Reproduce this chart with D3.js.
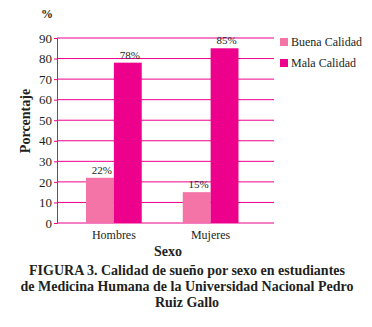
<!DOCTYPE html>
<html>
<head>
<meta charset="utf-8">
<script src="https://cdn.jsdelivr.net/npm/d3@7"></script>
<style>
  body { margin: 0; background: #fff; }
  svg text { font-family: "Liberation Serif", "DejaVu Serif", serif; fill: #231f20; }
</style>
</head>
<body>
<div id="chart"></div>
<script>
const categories = ['Hombres', 'Mujeres']
const series = ['Buena Calidad', 'Mala Calidad']
const buena = [22, 15]
const mala = [78, 85]
const yTicks = [0, 10, 20, 30, 40, 50, 60, 70, 80, 90]
const captionLines = [
  'FIGURA 3. Calidad de sueño por sexo en estudiantes',
  'de Medicina Humana de la Universidad Nacional Pedro',
  'Ruiz Gallo'
]

const width = 372
const height = 327
const lineColor = '#ec008c'
const colors = ['#f474a8', '#ec008c']
const serifFont = '"Liberation Serif", "DejaVu Serif", serif'

const plot = { left: 57, right: 274, top: 38, bottom: 223 }

const svg = d3
  .select('#chart')
  .append('svg')
  .attr('width', width)
  .attr('height', height)
  .style('font-family', serifFont)

const y = d3.scaleLinear().domain([0, 90]).range([plot.bottom, plot.top])

const x0 = d3.scaleBand().domain(categories).range([65.5, 259])
const x1 = d3
  .scaleBand()
  .domain(series)
  .range([x0.bandwidth() * 0.212, x0.bandwidth() * 0.788])

// grid lines
svg
  .append('g')
  .selectAll('line')
  .data(yTicks.filter(d => d > 0))
  .enter()
  .append('line')
  .attr('x1', plot.left)
  .attr('x2', plot.right)
  .attr('y1', d => y(d))
  .attr('y2', d => y(d))
  .style('stroke', lineColor)
  .style('stroke-width', 1)

// y axis
const yAxis = svg
  .append('g')
  .attr('transform', `translate(${plot.left},0)`)
  .call(d3.axisLeft(y).tickValues(yTicks).tickSize(3).tickPadding(2))
yAxis.attr('font-family', null)
yAxis.select('.domain').style('stroke', lineColor)
yAxis.selectAll('.tick line').style('stroke', lineColor)
yAxis
  .selectAll('.tick text')
  .style('font-family', serifFont)
  .style('font-size', '13px')
  .style('fill', '#231f20')

// bottom line
svg
  .append('line')
  .attr('x1', plot.left)
  .attr('x2', plot.right)
  .attr('y1', y(0))
  .attr('y2', y(0))
  .style('stroke', lineColor)
  .style('stroke-width', 1)

const bars = categories.map((cat, i) => [
  { cat, s: series[0], v: buena[i] },
  { cat, s: series[1], v: mala[i] }
]).flat()

const barG = svg.append('g')
barG
  .selectAll('rect')
  .data(bars)
  .enter()
  .append('rect')
  .attr('x', d => x0(d.cat) + x1(d.s))
  .attr('y', d => y(d.v))
  .attr('width', x1.bandwidth())
  .attr('height', d => y(0) - y(d.v))
  .style('fill', d => colors[series.indexOf(d.s)])

barG
  .selectAll('text')
  .data(bars)
  .enter()
  .append('text')
  .attr('x', d => x0(d.cat) + x1(d.s) + x1.bandwidth() / 2 + 2)
  .attr('y', d => y(d.v) - 4)
  .attr('text-anchor', 'middle')
  .style('font-size', '11px')
  .text(d => d.v + '%')

// category labels
svg
  .append('g')
  .selectAll('text')
  .data(categories)
  .enter()
  .append('text')
  .attr('x', d => x0(d) + x0.bandwidth() / 2)
  .attr('y', 239)
  .attr('text-anchor', 'middle')
  .style('font-size', '12px')
  .text(d => d)

// legend
const legend = svg
  .append('g')
  .selectAll('g')
  .data(series)
  .enter()
  .append('g')
  .attr('transform', (d, i) => `translate(280,${38 + i * 21})`)
legend
  .append('rect')
  .attr('width', 8)
  .attr('height', 8)
  .style('fill', (d, i) => colors[i])
legend
  .append('text')
  .attr('x', 11)
  .attr('y', 8)
  .style('font-size', '12px')
  .text(d => d)

// axis titles
svg
  .append('text')
  .attr('x', 41)
  .attr('y', 18)
  .style('font-size', '12px')
  .style('font-weight', 'bold')
  .text('%')

svg
  .append('text')
  .attr('transform', 'translate(30,121) rotate(-90)')
  .attr('text-anchor', 'middle')
  .style('font-size', '14px')
  .style('font-weight', 'bold')
  .text('Porcentaje')

svg
  .append('text')
  .attr('x', 168)
  .attr('y', 256)
  .attr('text-anchor', 'middle')
  .style('font-size', '14px')
  .style('font-weight', 'bold')
  .text('Sexo')

svg
  .append('g')
  .selectAll('text')
  .data(captionLines)
  .enter()
  .append('text')
  .attr('x', 187)
  .attr('y', (d, i) => 275 + i * 16)
  .attr('text-anchor', 'middle')
  .style('font-size', '14px')
  .style('font-weight', 'bold')
  .text(d => d)
</script>
</body>
</html>
